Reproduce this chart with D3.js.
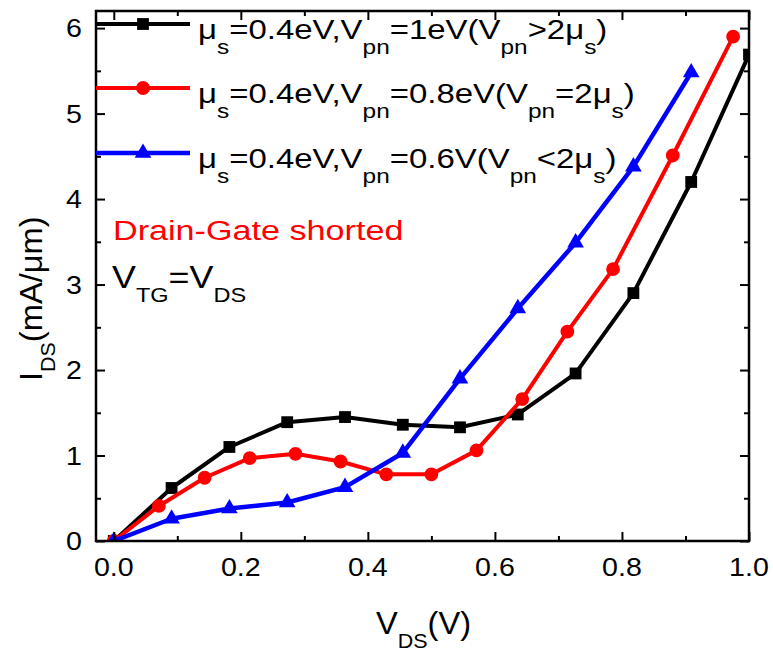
<!DOCTYPE html>
<html><head><meta charset="utf-8">
<script src="https://cdn.jsdelivr.net/npm/d3@7"></script>
<style>body{margin:0;background:#fff}svg{display:block}text{font-family:"Liberation Sans",Arial,sans-serif}</style>
</head><body><div id="chart"></div>
<script>
const W = 773, H = 651;
// data
const vdsBlack = [0, 0.091, 0.182, 0.273, 0.364, 0.455, 0.545, 0.636, 0.727, 0.818, 0.909, 1.0];
const idsBlack = [0, 0.62, 1.10, 1.39, 1.45, 1.36, 1.33, 1.48, 1.96, 2.90, 4.20, 5.69];
const vdsRed = [0, 0.071, 0.143, 0.214, 0.286, 0.357, 0.429, 0.50, 0.571, 0.643, 0.714, 0.786, 0.880, 0.975];
const idsRed = [0, 0.41, 0.74, 0.97, 1.02, 0.93, 0.78, 0.78, 1.06, 1.66, 2.45, 3.18, 4.51, 5.90];
const vdsBlue = [0, 0.091, 0.182, 0.273, 0.364, 0.455, 0.545, 0.636, 0.727, 0.818, 0.909];
const idsBlue = [0, 0.26, 0.38, 0.45, 0.63, 1.03, 1.90, 2.72, 3.49, 4.38, 5.48];
const xTicks = [0, 0.2, 0.4, 0.6, 0.8, 1.0];
const xMinor = [0.1, 0.3, 0.5, 0.7, 0.9];
const yTicks = [0, 1, 2, 3, 4, 5, 6];
const yMinor = [0.5, 1.5, 2.5, 3.5, 4.5, 5.5];
const legendLabels = [
  [["μ",0],["s",1],["=0.4eV,V",0],["pn",1],["=1eV(V",0],["pn",1],[">2μ",0],["s",1],[")",0]],
  [["μ",0],["s",1],["=0.4eV,V",0],["pn",1],["=0.8eV(V",0],["pn",1],["=2μ",0],["s",1],[")",0]],
  [["μ",0],["s",1],["=0.4eV,V",0],["pn",1],["=0.6V(V",0],["pn",1],["<2μ",0],["s",1],[")",0]]
];
const series = [
  {x: vdsBlack, y: idsBlack, color: "#000000", sym: d3.symbolSquare, size: 140, lw: 4},
  {x: vdsRed, y: idsRed, color: "#ff0000", sym: d3.symbolCircle, size: 150, lw: 4},
  {x: vdsBlue, y: idsBlue, color: "#0000ff", sym: d3.symbolTriangle, size: 120, lw: 4.5}
];

const svg = d3.select("#chart").append("svg").attr("width", W).attr("height", H);
const L = 96, R = 749, T = 11, B = 541;
const x = d3.scaleLinear().domain([-0.028, 1.0]).range([L, R]);
const y = d3.scaleLinear().domain([0, 6.2]).range([B, T]);

function stext(g, px, py, parts, o) {
  const t = g.append("text")
    .attr("transform", `translate(${px},${py}) scale(${o.sx||1},1)`)
    .attr("font-size", o.fs).attr("fill", o.color || "#000")
    .attr("text-anchor", o.anchor || "start");
  let cur = 0;
  parts.forEach(([s, sub]) => {
    const target = sub ? o.subDy : 0;
    t.append("tspan").attr("dy", target - cur).attr("font-size", sub ? o.subFs : o.fs).text(s);
    cur = target;
  });
  return t;
}

// clip
svg.append("clipPath").attr("id", "clip").append("rect").attr("x", L).attr("y", T).attr("width", R - L).attr("height", B - T);
const plot = svg.append("g").attr("clip-path", "url(#clip)");

const line = d3.line();
series.forEach(s => {
  const pts = s.x.map((v, i) => [x(v), y(s.y[i])]);
  plot.append("path").attr("d", line(pts)).attr("fill", "none").attr("stroke", s.color)
    .attr("stroke-width", s.lw).attr("stroke-linejoin", "round");
  plot.selectAll(null).data(pts).enter().append("path")
    .attr("d", d3.symbol().type(s.sym).size(s.size))
    .attr("transform", d => `translate(${d[0]},${d[1]})`)
    .attr("fill", s.color);
});

// axes (ticks inside)
const axW = 2.5;
svg.append("g").attr("transform", `translate(0,${B})`)
  .call(d3.axisBottom(x).tickValues(xTicks).tickSize(-9).tickFormat(() => ""));
svg.append("g").attr("transform", `translate(0,${B})`)
  .call(d3.axisBottom(x).tickValues(xMinor).tickSize(-5).tickFormat(() => ""));
svg.append("g").attr("transform", `translate(0,${T})`)
  .call(d3.axisTop(x).tickValues(xTicks).tickSize(-9).tickFormat(() => ""));
svg.append("g").attr("transform", `translate(0,${T})`)
  .call(d3.axisTop(x).tickValues(xMinor).tickSize(-5).tickFormat(() => ""));
svg.append("g").attr("transform", `translate(${L},0)`)
  .call(d3.axisLeft(y).tickValues(yTicks).tickSize(-9).tickFormat(() => ""));
svg.append("g").attr("transform", `translate(${L},0)`)
  .call(d3.axisLeft(y).tickValues(yMinor).tickSize(-5).tickFormat(() => ""));
svg.append("g").attr("transform", `translate(${R},0)`)
  .call(d3.axisRight(y).tickValues(yTicks).tickSize(-9).tickFormat(() => ""));
svg.append("g").attr("transform", `translate(${R},0)`)
  .call(d3.axisRight(y).tickValues(yMinor).tickSize(-5).tickFormat(() => ""));
svg.selectAll(".domain").remove();
svg.selectAll(".tick line").attr("stroke", "#000").attr("stroke-width", 2);
svg.append("rect").attr("x", L).attr("y", T).attr("width", R - L).attr("height", B - T)
  .attr("fill", "none").attr("stroke", "#000").attr("stroke-width", axW);

// tick labels
const labs = svg.append("g");
xTicks.forEach(v => stext(labs, x(v), 576, [[d3.format(".1f")(v), 0]], {fs: 26, sx: 1.1, anchor: "middle"}));
yTicks.forEach(v => stext(labs, 82, y(v) + 9, [[String(v), 0]], {fs: 26, sx: 1.1, anchor: "end"}));

// axis titles
stext(svg, 376, 634, [["V",0],["DS",1],["(V)",0]], {fs: 32, subFs: 21, subDy: 14, sx: 1.02});
const yt = svg.append("g").attr("transform", "translate(42,381) rotate(-90)");
stext(yt, 0, 0, [["I",0],["DS",1],["(mA/μm)",0]], {fs: 32, subFs: 21, subDy: 13, sx: 1.02});

// legend
const lg = svg.append("g");
const rowsY = [24, 88, 153];
series.forEach((s, i) => {
  lg.append("line").attr("x1", L).attr("x2", 190).attr("y1", rowsY[i]).attr("y2", rowsY[i])
    .attr("stroke", s.color).attr("stroke-width", s.lw);
  lg.append("path").attr("d", d3.symbol().type(s.sym).size(s.size))
    .attr("transform", `translate(143,${rowsY[i]})`).attr("fill", s.color);
  stext(lg, 198, rowsY[i] + 15, legendLabels[i], {fs: 27, subFs: 20, subDy: 15, sx: 1.22});
});

// annotations
stext(svg, 113, 240, [["Drain-Gate shorted",0]], {fs: 28, sx: 1.22, color: "#ff0000"});
stext(svg, 112, 288, [["V",0],["TG",1],["=V",0],["DS",1]], {fs: 32, subFs: 21, subDy: 14, sx: 1.12});
</script></body></html>
